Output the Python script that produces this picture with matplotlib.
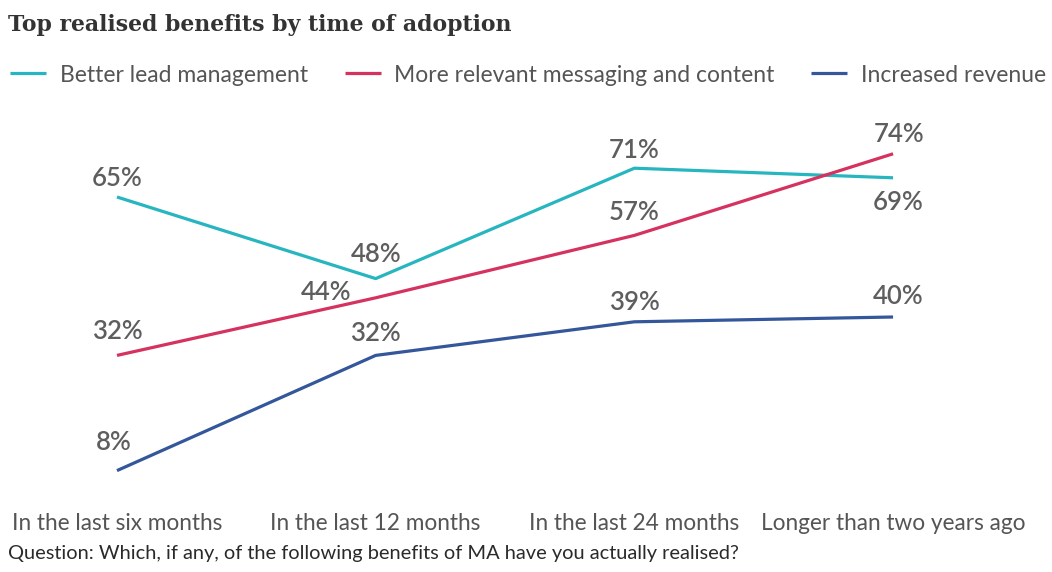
import matplotlib.pyplot as plt

# adoption periods and share of respondents (%) reporting each benefit
periods = ["In the last six months", "In the last 12 months",
           "In the last 24 months", "Longer than two years ago"]
lead_mgmt = [65, 48, 71, 69]
messaging = [32, 44, 57, 74]
revenue = [8, 32, 39, 40]

series_names = ["Better lead management", "More relevant messaging and content", "Increased revenue"]
colors = ["#27b5bf", "#d5325f", "#34569a"]

# label offsets in points (dx, dy) for each value label
lead_off = [(0, 13), (0, 17), (0, 13), (4, -18)]
msg_off = [(0, 17), (-36, 4), (0, 16.5), (4, 14)]
rev_off = [(-2, 20), (0, 16), (0, 14), (4, 14.5)]

plt.rcParams['font.family'] = ['Lato', 'DejaVu Sans']

fig = plt.figure(figsize=(10.52, 5.72), dpi=100)
ax = fig.add_axes([10/1052, 63/572, 1030/1052, 384/572])

x = range(len(periods))
all_vals = [lead_mgmt, messaging, revenue]
all_offs = [lead_off, msg_off, rev_off]
for vals, offs, c, name in zip(all_vals, all_offs, colors, series_names):
    ax.plot(x, vals, color=c, lw=2.3, label=name, solid_capstyle='butt')
    for i, v in enumerate(vals):
        ax.annotate(f"{v}%", (i, v), xytext=offs[i], textcoords='offset points',
                    ha='center', va='center', fontsize=18.5, color='#5e5e5e',
                    fontweight='semibold')

ax.set_xlim(-0.4136, 3.568)
ax.set_ylim(0, 80)
ax.set_xticks(list(x))
ax.set_xticklabels(periods, fontsize=16.3, color='#555555')
ax.tick_params(axis='x', length=0, pad=3)
ax.set_yticks([])
for s in ax.spines.values():
    s.set_visible(False)

fig.text(8/1052, 1 - 25/572, "Top realised benefits by time of adoption",
         family='DejaVu Serif', fontweight='bold', fontsize=15.8,
         color='#333333', va='center', ha='left')

fig.legend(loc='center left', bbox_to_anchor=(10/1052, 1 - 75/572), ncol=3,
           frameon=False, fontsize=16.5, handlelength=1.57, handletextpad=0.6,
           columnspacing=1.6, labelcolor='#555555', borderaxespad=0, borderpad=0)

fig.text(8/1052, 1 - 553/572,
         "Question: Which, if any, of the following benefits of MA have you actually realised?",
         fontsize=14.4, color='#2a2a2a', va='center', ha='left')

fig.savefig("out.png", dpi=100, facecolor='white')
